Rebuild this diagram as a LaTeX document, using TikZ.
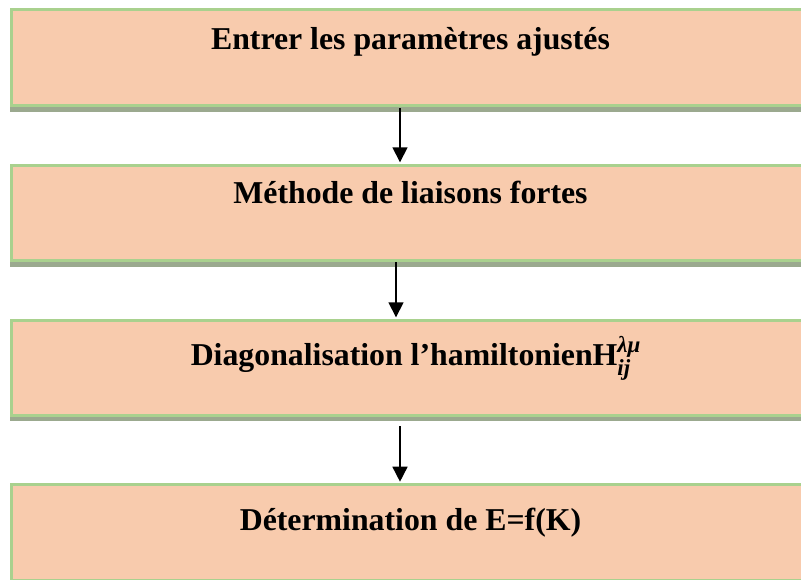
\documentclass[tikz,border=0pt]{standalone}
\usepackage{fontspec}
\setmainfont{Liberation Serif}
\usetikzlibrary{arrows.meta,calc}

\definecolor{boxfill}{HTML}{F8CBAD}
\definecolor{boxedge}{HTML}{A9D18E}
\definecolor{boxshade}{HTML}{9BA98F}

\tikzset{
  stepbox/.style={draw=boxedge, line width=3pt, fill=boxfill, rectangle,
    anchor=north west, minimum width=798.4pt, minimum height=95.5pt,
    inner sep=0pt},
  shade/.style={fill=boxshade, draw=none},
  lbl/.style={anchor=base, inner sep=0pt,
    font=\fontsize{31.8}{38}\selectfont\bfseries},
  flow/.style={line width=1.6pt, -{Triangle[width=15pt,length=15pt]}},
}
% bold italic indices on the Hamiltonian
\newcommand{\hamil}{H\rlap{\raisebox{13pt}{\fontsize{23}{27}\selectfont\itshape λμ}}%
  \raisebox{-10pt}{\fontsize{23}{27}\selectfont\itshape ij}\hspace{10pt}}

\begin{document}
\begin{tikzpicture}[x=1pt,y=-1pt]
\useasboundingbox (0,0) rectangle (801,580);
\clip (0,0) rectangle (801,580);

% drop shadows under each box
\fill[shade] (10,14) rectangle (830,112);
\fill[shade] (10,169) rectangle (830,267);
\fill[shade] (10,323) rectangle (830,421);

% the four steps
\node[stepbox] (b1) at (9.8,8.5) {};
\node[stepbox] (b2) at (9.8,163.8) {};
\node[stepbox] (b3) at (9.8,318.8) {};
\node[stepbox] (b4) at (9.8,483.2) {};

\node[lbl] (t1) at ($(b1.north)+(0,41)$) {Entrer les paramètres ajustés};
\node[lbl] (t2) at ($(b2.north)+(0,39.5)$) {Méthode de liaisons fortes};
\node[lbl] (t3) at ($(b3.north)+(0,46.5)$) {Diagonalisation l’hamiltonien\hamil};
\node[lbl] (t4) at ($(b4.north)+(0,47)$) {Détermination de E=f(K)};

% connectors
\coordinate (xa) at (400,0);
\coordinate (xb) at (396,0);
\draw[flow] ($(b1.south -| xa)+(0,1)$) -- ($(b2.north -| xa)+(0,-1.5)$);
\draw[flow] ($(b2.south -| xb)+(0,0)$) -- ($(b3.north -| xb)+(0,-1.5)$);
\draw[flow] ($(b3.south -| xa)+(0,9)$) -- ($(b4.north -| xa)+(0,-1.5)$);
\end{tikzpicture}
\end{document}
